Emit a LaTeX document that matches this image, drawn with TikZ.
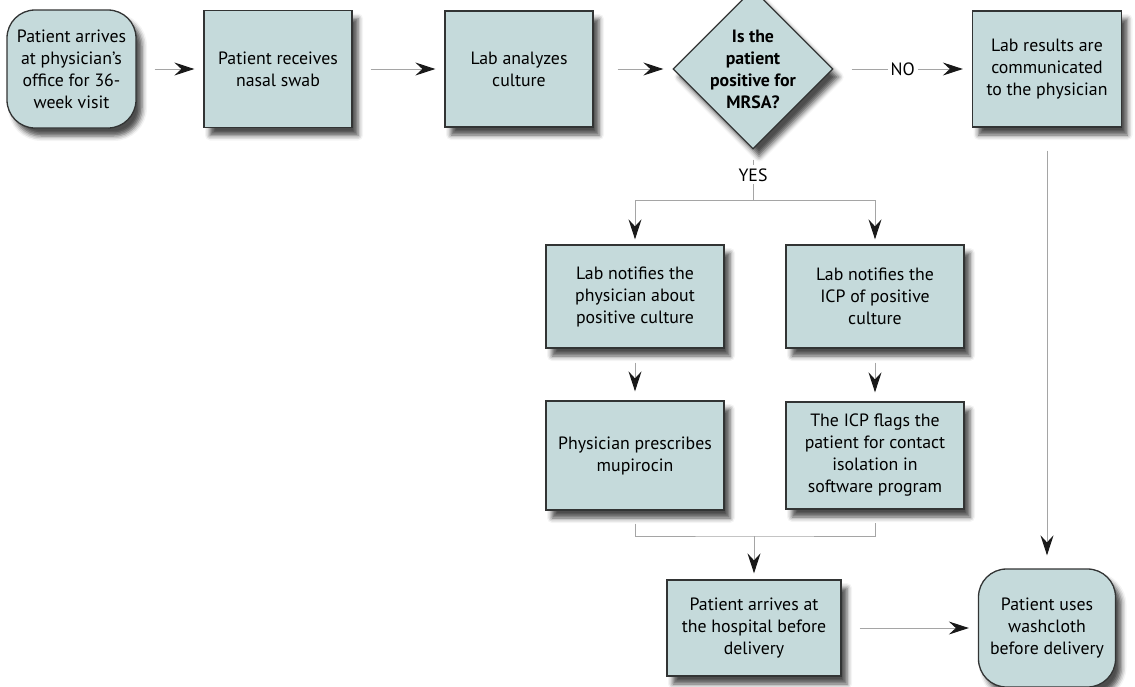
\documentclass[tikz,border=0pt]{standalone}
\usepackage{fontspec}
\setmainfont{PT Sans}
\usetikzlibrary{shapes.geometric,arrows.meta,shadows.blur}
\definecolor{boxfill}{RGB}{197,218,219}
\definecolor{boxline}{RGB}{50,52,52}
\definecolor{linkgray}{RGB}{165,165,165}
\definecolor{tipgray}{RGB}{25,25,25}
\tikzset{
  stepbox/.style={rectangle, draw=boxline, fill=boxfill, line width=1.3pt,
    align=center, inner sep=0pt, font=\fontsize{17.8}{22}\selectfont,
    blur shadow={shadow xshift=6pt, shadow yshift=-8pt, shadow blur radius=5pt, shadow opacity=70}},
  endbox/.style={stepbox, rounded corners=28pt},
  query/.style={stepbox, diamond, minimum width=160pt, minimum height=160pt},
  qtext/.style={align=center, font=\fontsize{17.8}{22}\selectfont\bfseries},
  link/.style={draw=linkgray, line width=1pt},
  flow/.style={link, -{Stealth[length=20pt, width=13pt, inset=7pt, color=tipgray]},
    shorten <=18pt, shorten >=9pt},
  tag/.style={fill=white, inner sep=3pt, font=\fontsize{17.8}{22}\selectfont}
}
\begin{document}
\begin{tikzpicture}[x=1pt, y=-1pt]
\useasboundingbox (0,0) rectangle (1135,686);

% top row
\node[endbox, minimum width=129pt, minimum height=118pt] (arrival) at (71.5,69) {Patient arrives\\at physician’s\\office for 36-\\week visit};
\node[stepbox, minimum width=148pt, minimum height=117pt] (swab) at (278,69) {Patient receives\\nasal swab};
\node[stepbox, minimum width=148pt, minimum height=116pt] (culture) at (519,69) {Lab analyzes\\culture};
\node[query, label={[qtext]center:Is the\\patient\\positive for\\MRSA?}] (mrsa) at (753,69) {};
\node[stepbox, minimum width=149pt, minimum height=116pt] (results) at (1047,69) {Lab results are\\communicated\\to the physician};

% positive branch
\node[stepbox, minimum width=178pt, minimum height=103pt] (labdoc) at (635,296.5) {Lab notifies the\\physician about\\positive culture};
\node[stepbox, minimum width=178pt, minimum height=103pt] (labicp) at (875,296.5) {Lab notifies the\\ICP of positive\\culture};
\node[stepbox, minimum width=178pt, minimum height=109pt] (rx) at (635,455.5) {Physician prescribes\\mupirocin};
\node[stepbox, minimum width=178pt, minimum height=107pt] (flag) at (875,455.5) {The ICP flags the\\patient for contact\\isolation in\\software program};

% bottom row
\node[stepbox, minimum width=174pt, minimum height=96pt] (hospital) at (754,628) {Patient arrives at\\the hospital before\\delivery};
\node[endbox, minimum width=137pt, minimum height=118pt] (wash) at (1047,628) {Patient uses\\washcloth\\before delivery};

\coordinate (fork) at (753,200);
\coordinate (merge) at (754,536);

\draw[flow] (arrival) -- (swab);
\draw[flow] (swab) -- (culture);
\draw[flow, shorten <=24pt] (culture) -- (mrsa);
\draw[flow] (mrsa) -- node[tag] {NO} (results);

\draw[link, shorten <=10pt] (mrsa) -- node[tag] {YES} (fork);
\draw[flow, shorten <=0pt, shorten >=5pt] (fork) -| (labdoc);
\draw[flow, shorten <=0pt, shorten >=5pt] (fork) -| (labicp);
\draw[flow, shorten <=14pt] (labdoc) -- (rx);
\draw[flow, shorten <=14pt] (labicp) -- (flag);

\draw[link] ([yshift=-13pt]rx.south) |- (merge) -| ([yshift=-13pt]flag.south);
\draw[flow, shorten <=0pt, shorten >=6pt] (merge) -- (hospital);
\draw[flow] (hospital) -- (wash);
\draw[flow, shorten <=23pt, shorten >=13pt] (results) -- (wash);
\end{tikzpicture}
\end{document}
